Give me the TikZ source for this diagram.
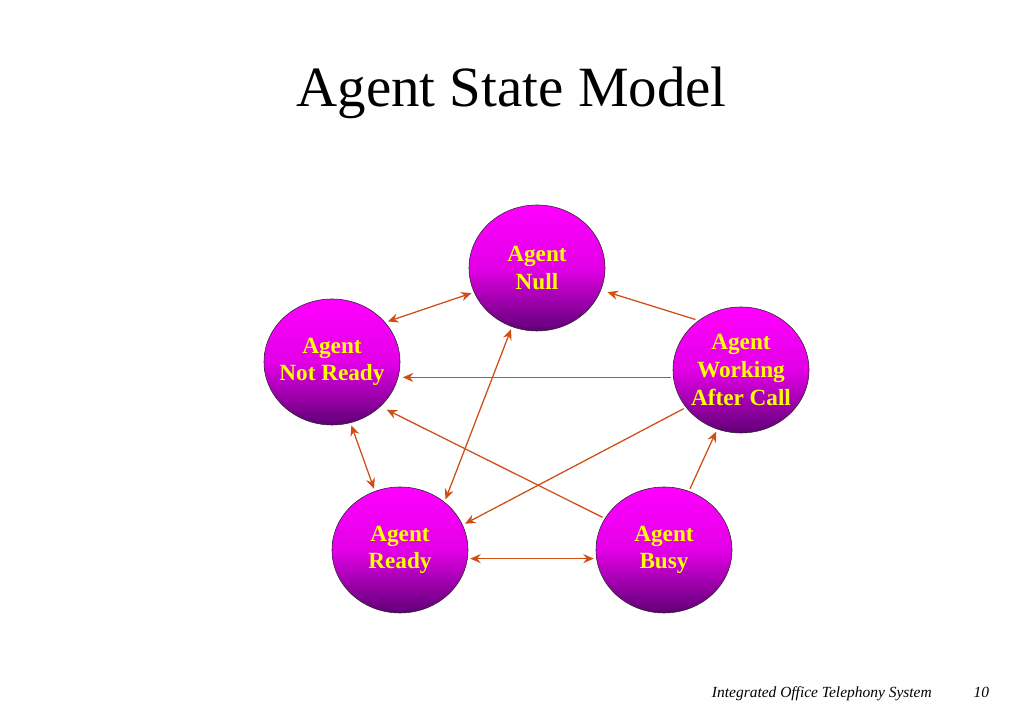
\documentclass[tikz,border=0pt]{standalone}
\usepackage{fontspec}
\setmainfont{Liberation Serif}
\usetikzlibrary{arrows.meta,shapes.geometric}
\definecolor{stmag}{RGB}{255,0,255}
\definecolor{stpur}{RGB}{96,0,118}
\definecolor{styel}{RGB}{255,255,0}
\definecolor{starr}{RGB}{208,78,20}

\begin{document}
\begin{tikzpicture}[
  st/.style={ellipse, draw=black!85, thin, top color=stmag, bottom color=stpur,
             middle color=stmag!82!stpur, minimum width=3.4cm, minimum height=3.15cm,
             inner xsep=-0.25cm, inner ysep=0pt, outer sep=2pt, text=styel, align=center,
             font=\fontsize{16.5}{19.6}\selectfont\bfseries},
  tr/.style={draw=starr, line width=0.9pt},
  >={Stealth[length=7.5pt,width=6.5pt,inset=2.5pt]},
]
\useasboundingbox (0,0) rectangle (25.575,17.7);

\node[font=\fontsize{40.5}{48}\selectfont, anchor=base] (ttl) at (12.79,15.025) {Agent State Model};

% states
\node[st] (anull) at (13.425,11.0) {Agent\\Null};
\node[st] (anr)   at (8.3,8.65)    {Agent\\Not Ready};
\node[st] (awac)  at (18.525,8.45) {Agent\\Working\\After Call};
\node[st] (ardy)  at (10.0,3.95)   {Agent\\Ready};
\node[st] (abusy) at (16.6,3.95)   {Agent\\Busy};

% transitions
\draw[tr, <->] (anr.36)   -- (anull.201);
\draw[tr, ->, shorten >=3pt] (awac.132) -- (anull.341);
\draw[tr, ->] (awac.186) -- (awac.186 -| anr.east);
\draw[tr, <->] (anr.287)  -- (ardy.113);
\draw[tr, <->] (anull.247) -- (ardy.48);
\draw[tr, ->]  (awac.214) -- (ardy.22);
\draw[tr, ->, shorten >=3pt] (abusy.152) -- (anr.318);
\draw[tr, <->] (ardy.353) -- (abusy.187);
\draw[tr, ->]  (abusy.67) -- (awac.248);

\node[font=\fontsize{11}{13}\selectfont\itshape, anchor=base west] (foot) at (17.675,0.25)
    {Integrated Office Telephony System};
\node[font=\fontsize{11}{13}\selectfont\itshape, anchor=base east] (pgno) at (24.85,0.25) {10};
\end{tikzpicture}
\end{document}
